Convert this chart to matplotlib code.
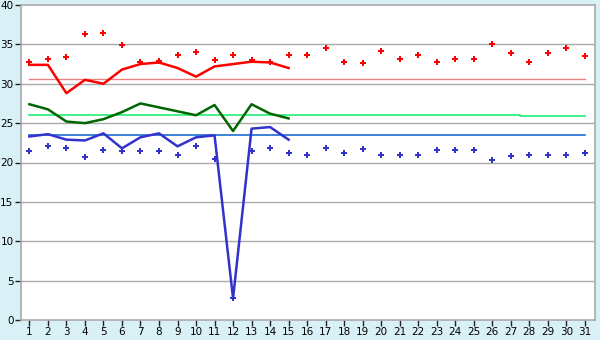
import numpy as np
import matplotlib
matplotlib.use("Agg")
import matplotlib.pyplot as plt

days = list(range(1, 32))
line_days = list(range(1, 16))

# scatter points, one per day
red_pts = [32.8, 33.2, 33.4, 36.3, 36.4, 34.9, 32.7, 32.9, 33.6, 34.0,
           33.0, 33.6, 33.0, 32.8, 33.6, 33.6, 34.5, 32.8, 32.6, 34.2,
           33.2, 33.6, 32.8, 33.2, 33.2, 35.0, 33.9, 32.8, 33.9, 34.6, 33.5]
blue_pts = [21.4, 22.1, 21.8, 20.65, 21.55, 21.4, 21.4, 21.4, 21.0, 22.1,
            20.4, 2.75, 21.4, 21.8, 21.15, 21.0, 21.8, 21.15, 21.7, 21.0,
            21.0, 21.0, 21.55, 21.65, 21.65, 20.3, 20.8, 20.9, 21.0, 21.0, 21.15]

# lines, days 1-15
red_line = [32.4, 32.4, 28.8, 30.5, 30.0, 31.8, 32.5, 32.7, 32.0, 30.9,
            32.2, 32.5, 32.8, 32.7, 32.0]
green_line = [27.4, 26.75, 25.2, 25.0, 25.5, 26.4, 27.5, 27.0, 26.5, 26.0,
              27.3, 24.0, 27.4, 26.2, 25.6]
blue_line = [23.3, 23.6, 22.9, 22.8, 23.7, 21.8, 23.2, 23.7, 22.05, 23.2,
             23.45, 2.75, 24.3, 24.5, 22.9]

# reference levels
red_ref = [30.55] * 31
green_ref = [26.0] * 27 + [25.85] * 4
blue_ref = [23.45] * 31

fig = plt.figure(figsize=(6, 3.4), dpi=100, facecolor="#daf0f7")
ax = fig.add_axes([20.5 / 600, 20 / 340, 574.5 / 600, 315 / 340])
ax.set_facecolor("white")

ax.set_xlim(0.52, 31.55)
ax.set_ylim(0, 40)
ax.set_yticks(range(0, 41, 5))
ax.set_xticks(days)
for y in range(5, 40, 5):
    ax.axhline(y, color="#aaaaaa", lw=1, zorder=1)

ax.plot(days, red_ref, color="#f08080", lw=1, zorder=2)
ax.plot(days, green_ref, color="#22ee77", lw=1.2, drawstyle="steps-mid", zorder=2)
ax.plot(days, blue_ref, color="#1a6fd6", lw=1.2, zorder=2)

ax.plot(line_days, red_line, color="#ff0000", lw=1.8, zorder=3)
ax.plot(line_days, green_line, color="#006600", lw=1.8, zorder=3)
ax.plot(line_days, blue_line, color="#3333cc", lw=1.8, zorder=3)

ax.plot(days, red_pts, "P", color="#ff0000", ms=4.5, mew=0, ls="none", zorder=4)
ax.plot(days, blue_pts, "P", color="#3333cc", ms=4.5, mew=0, ls="none", zorder=4)

for s in ax.spines.values():
    s.set_color("#aaaaaa")
    s.set_linewidth(1.2)
ax.tick_params(axis="both", labelsize=7.5, color="#222222", length=4, width=1, pad=1)

fig.savefig("out.png", dpi=100, facecolor=fig.get_facecolor())
